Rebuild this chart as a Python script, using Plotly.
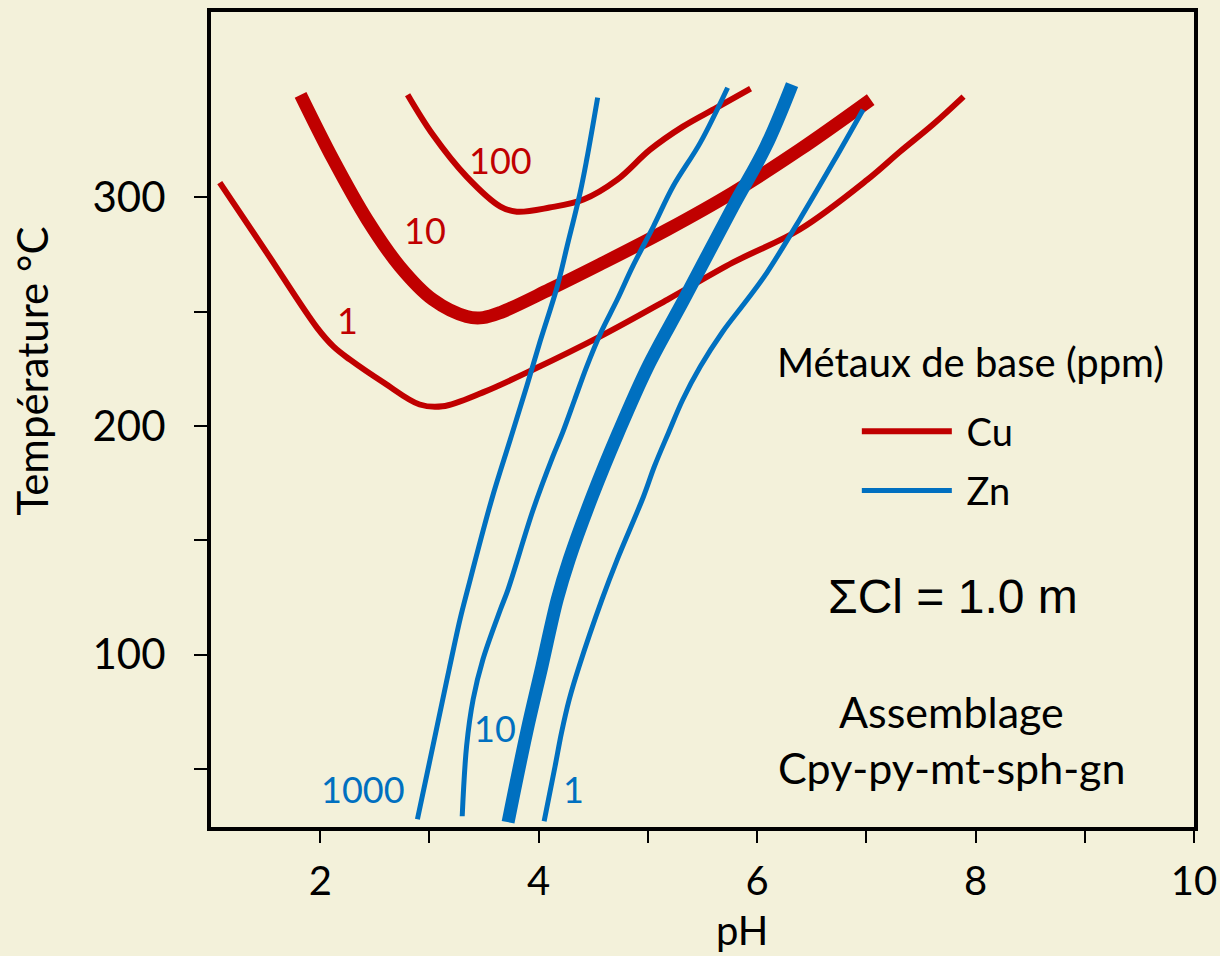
import plotly.graph_objects as go

# ---- data (pH, Temperature °C) ----
cu1_ph = [1.08, 1.51, 1.97, 2.12, 2.27, 2.58, 2.91, 3.12, 3.49, 3.95, 4.56, 5.18, 5.78, 6.39, 7.01, 7.31, 7.61, 7.89]
cu1_t = [306.4, 275.8, 243.0, 234.8, 229.1, 219.0, 209.4, 208.6, 214.7, 224.7, 239.1, 255.3, 271.5, 285.9, 307.7, 320.0, 331.8, 344.0]

cu10_ph = [1.82, 2.12, 2.43, 2.73, 3.03, 3.34, 3.49, 3.65, 4.10, 4.56, 5.18, 5.78, 6.39, 7.04]
cu10_t = [344.8, 316.4, 290.2, 269.7, 255.3, 247.9, 247.4, 249.6, 259.7, 270.6, 285.9, 302.1, 320.8, 342.7]

cu100_ph = [2.80, 3.03, 3.34, 3.65, 3.80, 4.10, 4.41, 4.72, 5.02, 5.32, 5.63, 5.94]
cu100_t = [344.8, 327.4, 309.0, 295.9, 293.7, 295.5, 299.0, 307.7, 320.8, 330.9, 339.2, 347.5]

zn1000_ph = [2.89, 3.07, 3.18, 3.28, 3.35, 3.57, 3.74, 3.89, 4.01, 4.17, 4.26, 4.38, 4.44, 4.54]
zn1000_t = [28.1, 68.7, 93.6, 115.5, 128.6, 167.9, 194.1, 217.3, 236.5, 261.0, 278.5, 302.1, 316.5, 343.6]

zn100_ph = [3.30, 3.34, 3.40, 3.49, 3.65, 3.72, 3.95, 4.13, 4.22, 4.33, 4.44, 4.57, 4.72, 4.86, 5.05, 5.23, 5.48, 5.73]
zn100_t = [29.4, 60.0, 80.5, 98.0, 119.8, 128.6, 163.5, 186.7, 197.2, 211.6, 226.0, 240.9, 255.3, 269.7, 287.2, 304.7, 323.9, 347.9]

zn10_ph = [3.72, 3.89, 4.03, 4.17, 4.28, 4.49, 4.73, 5.00, 5.33, 5.78, 6.08, 6.32]
zn10_t = [26.8, 66.1, 95.0, 124.2, 141.7, 169.2, 197.2, 226.0, 255.3, 296.0, 322.2, 349.3]

zn1_ph = [4.05, 4.15, 4.21, 4.28, 4.37, 4.58, 4.72, 4.96, 5.06, 5.19, 5.32, 5.48, 5.68, 5.91, 6.09, 6.39, 6.70, 6.97]
zn1_t = [27.2, 51.2, 66.1, 80.5, 94.9, 124.2, 141.7, 169.2, 182.4, 197.2, 211.6, 226.0, 240.9, 255.3, 267.1, 290.3, 315.6, 338.3]

x_tickvals = [2, 3, 4, 5, 6, 7, 8, 9, 10]
x_ticktext = ["2", "", "4", "", "6", "", "8", "", "10"]
y_tickvals = [50, 100, 150, 200, 250, 300]
y_ticktext = ["", "100", "", "200", "", "300"]

RED = "#c00000"
BLUE = "#0070c0"
BG = "#f3f1da"
FONT = "Lato"

fig = go.Figure()

def add(xs, ys, color, width, name=None, group=None, legend=False):
    fig.add_trace(go.Scatter(
        x=xs, y=ys, mode="lines",
        line=dict(color=color, width=width, shape="spline", smoothing=1.0),
        name=name, legendgroup=group, showlegend=legend, hoverinfo="skip"))

add(cu1_ph, cu1_t, RED, 6, "\u00a0Cu", "Cu", True)
add(cu10_ph, cu10_t, RED, 13, group="Cu")
add(cu100_ph, cu100_t, RED, 6, group="Cu")
add(zn1000_ph, zn1000_t, BLUE, 5, "\u00a0Zn", "Zn", True)
add(zn100_ph, zn100_t, BLUE, 5, group="Zn")
add(zn10_ph, zn10_t, BLUE, 13, group="Zn")
add(zn1_ph, zn1_t, BLUE, 5, group="Zn")

ann = []
def lab(x, y, text, color, size=36, family=FONT):
    ann.append(dict(x=x, y=y, xref="x", yref="y", text=text, showarrow=False,
                    xanchor="center", yanchor="middle",
                    font=dict(color=color, size=size, family=family)))

lab(3.65, 316.4, "100", RED)
lab(2.96, 285.8, "10", RED)
lab(2.25, 246.5, "1", RED)
lab(2.39, 41.1, "1000", BLUE)
lab(3.60, 68.2, "10", BLUE)
lab(4.32, 41.1, "1", BLUE)

lab(7.79, 125.6, "ΣCl = 1.0 m", "black", 48, "Liberation Sans, Arial")
lab(7.78, 75.3, "Assemblage", "black", 43)
lab(7.78, 50.8, "Cpy-py-mt-sph-gn", "black", 43)
lab(7.95, 227.9, "Métaux de base (ppm)", "black", 40)

ann.append(dict(x=-0.182, y=0.559, xref="paper", yref="paper", text="Température °C",
                xanchor="center", yanchor="middle",
                textangle=-90, showarrow=False, font=dict(size=42, family=FONT, color="black")))
ann.append(dict(x=5.86, y=-0.094, xref="x", yref="paper", yanchor="top", xanchor="center", text="pH",
                showarrow=False, font=dict(size=40, family=FONT, color="black")))

fig.update_layout(
    width=1220, height=956,
    margin=dict(l=211, r=26, t=12, b=129),
    paper_bgcolor=BG, plot_bgcolor=BG,
    font=dict(family=FONT, color="black"),
    annotations=ann,
    legend=dict(
        x=0.657, xanchor="left", y=0.524, yanchor="top",
        bgcolor="rgba(0,0,0,0)",
        font=dict(size=38, family=FONT),
        itemwidth=90, traceorder="grouped", tracegroupgap=7,
    ),
    xaxis=dict(range=[1, 10], tickvals=x_tickvals, ticktext=x_ticktext, automargin=False,
               showgrid=False, zeroline=False, showline=True, linewidth=4, linecolor="black",
               mirror=True, ticks="outside", ticklen=12, tickwidth=2, tickcolor="black",
               tickfont=dict(size=40, family=FONT), ticklabelstandoff=4),
    yaxis=dict(range=[24.7, 381], tickvals=y_tickvals, ticktext=y_ticktext, automargin=False,
               showgrid=False, zeroline=False, showline=True, linewidth=4, linecolor="black",
               mirror=True, ticks="outside", ticklen=13, tickwidth=2, tickcolor="black",
               tickfont=dict(size=42, family=FONT), ticklabelstandoff=20),
)

fig.write_html("out.html")
